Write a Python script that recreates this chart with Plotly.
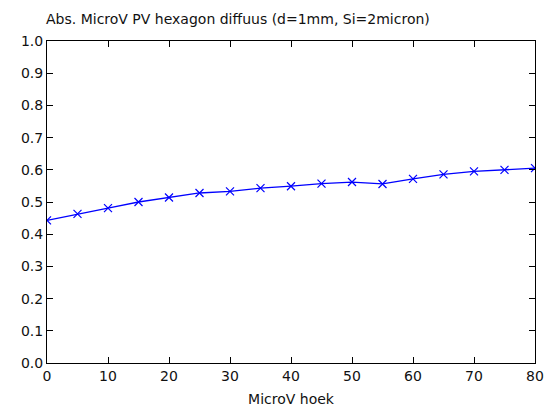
import plotly.graph_objects as go

hoek = [0, 5, 10, 15, 20, 25, 30, 35, 40, 45, 50, 55, 60, 65, 70, 75, 80]
absorptie = [0.443, 0.463, 0.481, 0.500, 0.514, 0.528, 0.533, 0.543, 0.549, 0.557,
             0.562, 0.556, 0.572, 0.586, 0.595, 0.600, 0.605]
x_ticks = [0, 10, 20, 30, 40, 50, 60, 70, 80]
y_ticks = [0.0, 0.1, 0.2, 0.3, 0.4, 0.5, 0.6, 0.7, 0.8, 0.9, 1.0]

fig = go.Figure(go.Scatter(
    x=hoek, y=absorptie, mode="lines+markers",
    line=dict(color="#0000ff", width=1.3),
    marker=dict(symbol="x-thin-open", size=8, line=dict(color="#0000ff", width=1.2)),
))

fam = "DejaVu Sans, Verdana, sans-serif"
fnt = dict(family=fam, size=14, color="#111111")
axis_common = dict(showgrid=False, zeroline=False, showline=True, linecolor="black",
                   linewidth=1, mirror="ticks", ticks="inside", ticklen=6,
                   tickcolor="black", tickfont=fnt, automargin=False)

fig.update_layout(
    width=549, height=410,
    margin=dict(l=47, r=14, t=41, b=47),
    paper_bgcolor="white", plot_bgcolor="white",
    showlegend=False,
    font=fnt,
    title=dict(text="Abs. MicroV PV hexagon diffuus (d=1mm, Si=2micron)",
               x=46/549, xanchor="left", y=1-19/410, yanchor="middle",
               font=dict(family=fam, size=14, color="#111111")),
    xaxis=dict(range=[0, 80], tickvals=x_ticks, ticktext=[str(v) for v in x_ticks],
               title=dict(text="MicroV hoek", font=fnt, standoff=11), **axis_common),
    yaxis=dict(range=[0, 1.0], tickvals=y_ticks, ticktext=[f"{v:.1f}" for v in y_ticks],
               **axis_common),
)

fig.write_html("out.html")
